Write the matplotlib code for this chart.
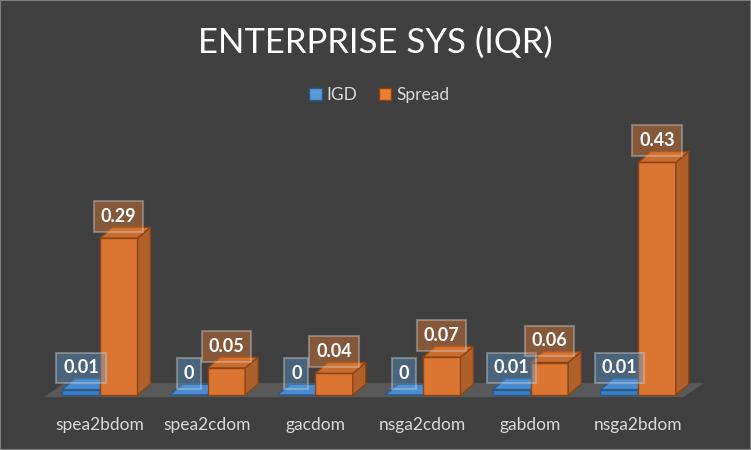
import matplotlib.pyplot as plt
from matplotlib.patches import Polygon, Patch, Rectangle

categories = ['spea2bdom', 'spea2cdom', 'gacdom', 'nsga2cdom', 'gabdom', 'nsga2bdom']
igd = [0.01, 0, 0, 0, 0.01, 0.01]
spread = [0.29, 0.05, 0.04, 0.07, 0.06, 0.43]
series = ['IGD', 'Spread']

plt.rcParams['font.family'] = ['Lato', 'DejaVu Sans']

bg = '#404040'
fig = plt.figure(figsize=(7.51, 4.5), dpi=100, facecolor=bg)
ax = fig.add_axes([46 / 751, 55 / 450, 646 / 751, 270.5 / 450])
ax.set_facecolor(bg)
ax.set_xlim(-0.5, 5.5)
ax.set_ylim(0, 0.5)
for s in ax.spines.values():
    s.set_visible(False)
ax.set_yticks([])
ax.set_xticks(range(len(categories)))
ax.set_xticklabels(categories, color='#d9d9d9', fontsize=12.5)
ax.tick_params(axis='x', length=0, pad=16)

# floor
fdx, fdy = 0.19, 0.026
floor = Polygon([(-0.52, -0.004), (5.42, -0.004), (5.42 + fdx, -0.004 + fdy), (-0.52 + fdx, -0.004 + fdy)],
                closed=True, facecolor='#595959', edgecolor='none', clip_on=False, zorder=1)
ax.add_patch(floor)

dx, dy = 0.12, 0.02
w = 0.35
styles = {
    'IGD': dict(front='#3f7fc4', top='#4a8bd0', side='#32669e', edge='#2a5a8c',
                lab='#5b9bd5'),
    'Spread': dict(front='#db7632', top='#c96c2e', side='#b0602a', edge='#8a4416',
                   lab='#ed7d31'),
}


def draw_bar(x0, h, st, z):
    x1 = x0 + w
    if h > 0:
        ax.add_patch(Polygon([(x0, 0), (x1, 0), (x1, h), (x0, h)], facecolor=st['front'],
                             edgecolor=st['edge'], lw=1, zorder=z, clip_on=False))
        ax.add_patch(Polygon([(x1, 0), (x1 + dx, dy), (x1 + dx, h + dy), (x1, h)], facecolor=st['side'],
                             edgecolor=st['edge'], lw=1, zorder=z, clip_on=False))
    ax.add_patch(Polygon([(x0, h), (x1, h), (x1 + dx, h + dy), (x0 + dx, h + dy)], facecolor=st['top'],
                         edgecolor=st['edge'], lw=1, zorder=z, clip_on=False))


def fmt(v):
    return '0' if v == 0 else f'{v:.2f}'


for i in range(len(categories)):
    for j, (name, vals) in enumerate([('IGD', igd), ('Spread', spread)]):
        x0 = i - w + j * w
        z = 3 + i * 2 + j
        draw_bar(x0, vals[i], styles[name], z)
        ax.text(x0 + w / 2, vals[i] + 0.04, fmt(vals[i]), ha='center', va='center',
                color='white', fontsize=13, fontweight='bold', zorder=20,
                bbox=dict(boxstyle='square,pad=0.38', facecolor=styles[name]['lab'], alpha=0.4,
                          edgecolor='#d0d0d0', lw=1.5))

fig.text(0.5, 1 - 43 / 450, 'ENTERPRISE SYS (IQR)', ha='center', va='center',
         color='white', fontsize=25)

handles = [Patch(facecolor=styles[n]['lab'], edgecolor=styles[n]['edge'], label=n) for n in series]
fig.legend(handles=handles, loc='center', bbox_to_anchor=(0.505, 1 - 95 / 450), ncol=2,
           frameon=False, labelcolor='#d9d9d9', fontsize=12.5, handlelength=0.7, handleheight=0.7,
           handletextpad=0.3, columnspacing=1.2)

fig.add_artist(Rectangle((0, 0), 1, 1, transform=fig.transFigure, fill=False,
                         edgecolor='#7f7f7f', lw=1.5))

fig.savefig('out.png', dpi=100, facecolor=bg)
